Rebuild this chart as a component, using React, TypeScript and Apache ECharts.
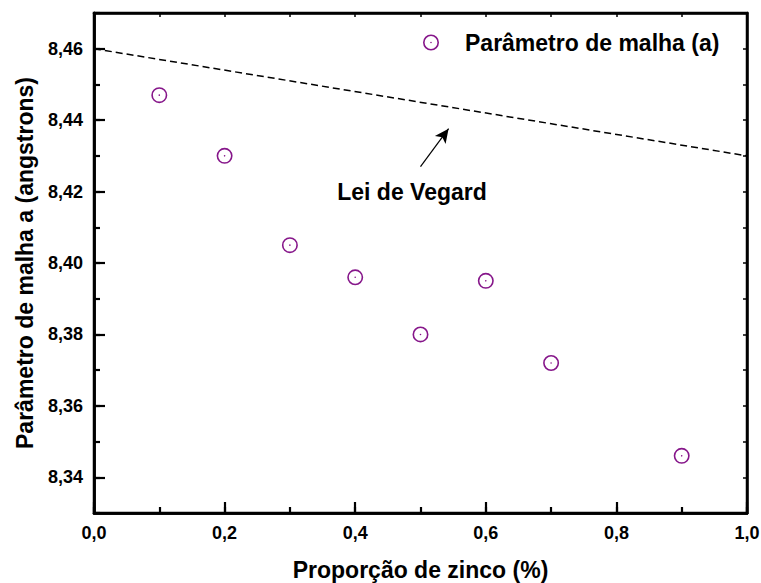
import React, { useEffect, useRef } from "react";
import * as echarts from "echarts";

const proportions = [0.1, 0.2, 0.3, 0.4, 0.5, 0.6, 0.7, 0.9];
const latticeA = [8.447, 8.43, 8.405, 8.396, 8.38, 8.395, 8.372, 8.346];
const vegardX = [0.0, 1.0];
const vegardY = [8.46, 8.43];
const arrowFrom = [0.5, 8.427];
const arrowTo = [0.543, 8.4376];
const annotationPos = [0.487, 8.4199];
const annotationText = "Lei de Vegard";
const seriesName = "Parâmetro de malha (a)";
const xTitle = "Proporção de zinco (%)";
const yTitle = "Parâmetro de malha a (angstrons)";

const X_MIN = 0, X_MAX = 1.0;
const Y_MIN = 8.33, Y_MAX = 8.47;

const FONT = "'Liberation Sans', Arial, Helvetica, sans-serif";
const PURPLE = "#86168a";

const ringSymbol =
  "path://M0 -10A10 10 0 1 1 0 10A10 10 0 1 1 0 -10ZM0 -8.0A8.0 8.0 0 1 0 0 8.0A8.0 8.0 0 1 0 0 -8.0ZM0 -1A1 1 0 1 1 0 1A1 1 0 1 1 0 -1Z";

export default function App() {
  const ref = useRef<HTMLDivElement>(null);
  useEffect(() => {
    if (!ref.current) return;
    const chart = echarts.init(ref.current, undefined, { renderer: "svg" });
    const labelFmt = (v: number) => v.toFixed(1).replace(".", ",");
    const yFmt = (v: number) => {
      const k = Math.round(v * 100);
      return k % 2 === 0 ? v.toFixed(2).replace(".", ",") : "";
    };
    const mkLine = () => ({ show: true, onZero: false, lineStyle: { color: "#000000", width: 2.5, opacity: 1 } });
    const mkTick = (len: number, w: number) => ({
      show: true, inside: true, length: len, lineStyle: { color: "#000000", width: w, opacity: 1 },
    });
    const noLabel = { show: false };
    const noSplit = { show: false };
    const option: any = {
      animation: false,
      backgroundColor: "#fff",
      grid: {
        left: 94, right: 14, top: 13, bottom: 70, containLabel: false, outerBoundsMode: "none",
        show: true, borderColor: "#000000", borderWidth: 2.5, backgroundColor: "transparent",
      },
      legend: {
        data: [seriesName],
        left: 418,
        top: 26,
        itemWidth: 58,
        itemHeight: 16,
        itemGap: 0,
        textStyle: { fontFamily: FONT, fontSize: 23, fontWeight: "bold", color: "#000", padding: [0, 0, 0, 0] },
      },
      xAxis: [
        {
          type: "value", position: "bottom", min: X_MIN, max: X_MAX, interval: 0.2,
          axisLine: mkLine(), splitLine: noSplit,
          axisTick: mkTick(11, 2.2),
          axisLabel: { formatter: labelFmt, fontFamily: FONT, fontSize: 18, fontWeight: "bold", color: "#000", margin: 11 },
          name: xTitle, nameLocation: "middle", nameGap: 45,
          nameTextStyle: { fontFamily: FONT, fontSize: 23, fontWeight: "bold", color: "#000" },
        },
        {
          type: "value", position: "bottom", min: X_MIN, max: X_MAX, interval: 0.1,
          axisLine: mkLine(), splitLine: noSplit, axisLabel: noLabel,
          axisTick: mkTick(6, 2.2),
        },
        {
          type: "value", position: "top", min: X_MIN, max: X_MAX, interval: 0.1,
          axisLine: mkLine(), splitLine: noSplit, axisLabel: noLabel,
          axisTick: mkTick(4, 1.5),
        },
      ],
      yAxis: [
        {
          type: "value", position: "left", min: Y_MIN, max: Y_MAX, splitNumber: 7,
          axisLine: mkLine(), splitLine: noSplit,
          axisTick: mkTick(11, 2.2),
          axisLabel: { formatter: yFmt, fontFamily: FONT, fontSize: 18, fontWeight: "bold", color: "#000", margin: 11, showMinLabel: false, showMaxLabel: false },
          name: yTitle, nameLocation: "middle", nameGap: 58,
          nameTextStyle: { fontFamily: FONT, fontSize: 23, fontWeight: "bold", color: "#000" },
        },
        {
          type: "value", position: "left", min: Y_MIN, max: Y_MAX, interval: 0.01,
          axisLine: mkLine(), splitLine: noSplit, axisLabel: noLabel,
          axisTick: mkTick(6, 2.2),
        },
        {
          type: "value", position: "right", min: Y_MIN, max: Y_MAX, interval: 0.01,
          axisLine: mkLine(), splitLine: noSplit, axisLabel: noLabel,
          axisTick: mkTick(4, 1.5),
        },
      ],
      series: [
        {
          name: "Vegard",
          type: "line",
          xAxisIndex: 0,
          yAxisIndex: 0,
          data: vegardX.map((x, i) => [x, vegardY[i]]),
          showSymbol: false,
          symbol: "none",
          lineStyle: { color: "#000", width: 1.5, type: [7, 4] },
          silent: true,
          markLine: {
            silent: true,
            symbol: ["none", "arrow"],
            symbolSize: [10, 14],
            label: { show: false },
            lineStyle: { color: "#000", width: 1.2, type: "solid" },
            data: [[{ coord: arrowFrom }, { coord: arrowTo }]],
          },
          markPoint: {
            silent: true,
            symbol: "circle",
            symbolSize: 0,
            itemStyle: { color: "transparent" },
            label: {
              show: true, position: "inside", formatter: "{b}",
              fontFamily: FONT, fontSize: 23, fontWeight: "bold", color: "#000",
            },
            data: [{ name: annotationText, coord: annotationPos }],
          },
        },
        {
          name: seriesName,
          type: "scatter",
          xAxisIndex: 0,
          yAxisIndex: 0,
          symbol: ringSymbol,
          symbolKeepAspect: true,
          symbolSize: 16,
          itemStyle: { color: PURPLE, opacity: 1 },
          data: proportions.map((x, i) => [x, latticeA[i]]),
          z: 5,
        },
      ],
    };
    chart.setOption(option);
    return () => chart.dispose();
  }, []);
  return (
    <div
      ref={ref}
      style={{ position: "fixed", left: 0, top: 0, width: 761, height: 583, background: "#fff" }}
    />
  );
}
